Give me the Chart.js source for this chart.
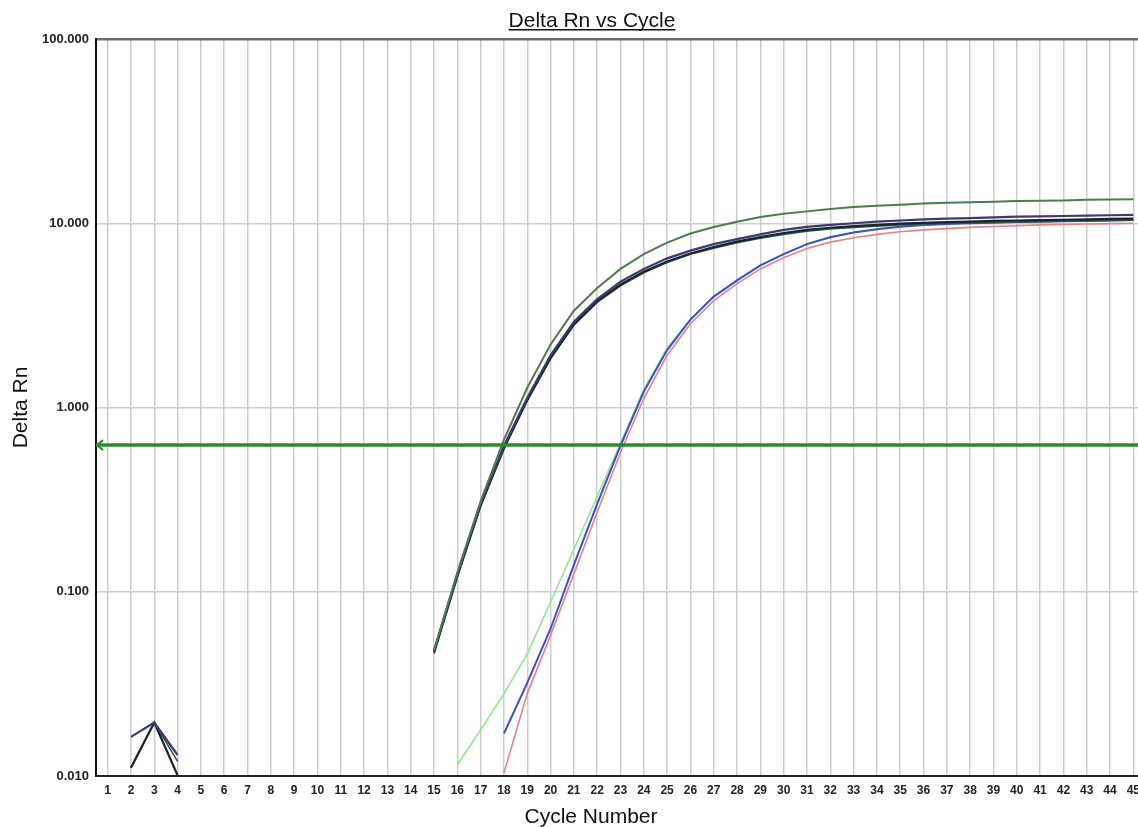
<!DOCTYPE html>
<html>
<head>
<meta charset="utf-8">
<title>Delta Rn vs Cycle</title>
<script src="https://cdn.jsdelivr.net/npm/chart.js@4/dist/chart.umd.min.js"></script>
<style>
  html, body { margin: 0; padding: 0; background: #fff; }
  canvas { display: block; }
</style>
</head>
<body>
<canvas id="ampChart" width="1138" height="827"></canvas>
<script>
var cycles = [];
for (var c = 1; c <= 45; c++) cycles.push(c);

var yTicks = [0.01, 0.1, 1, 10, 100];
var threshold = 0.625;

// Delta Rn per cycle (index 0 = cycle 1), null where nothing is plotted
var dkGreen = [null, null, null, null, null, null, null, null, null, null, null, null, null, null,
  0.048, 0.127, 0.31, 0.67, 1.28, 2.2, 3.35, 4.45, 5.65, 6.8, 7.85, 8.8, 9.55, 10.2, 10.8, 11.25,
  11.6, 11.95, 12.25, 12.45, 12.6, 12.8, 12.9, 13.0, 13.1, 13.2, 13.25, 13.3, 13.4, 13.45, 13.5];
var navy = [null, 0.0163, 0.0195, 0.013, null, null, null, null, null, null, null, null, null, null,
  0.048, 0.125, 0.30, 0.62, 1.13, 1.92, 2.92, 3.88, 4.82, 5.65, 6.45, 7.1, 7.7, 8.2, 8.7, 9.2,
  9.55, 9.8, 10.0, 10.2, 10.35, 10.5, 10.6, 10.65, 10.75, 10.85, 10.9, 10.95, 11.0, 11.05, 11.1];
var black = [null, 0.0111, 0.0195, 0.0101, null, null, null, null, null, null, null, null, null, null,
  0.047, 0.122, 0.295, 0.6, 1.1, 1.86, 2.83, 3.78, 4.65, 5.45, 6.2, 6.85, 7.42, 7.95, 8.4, 8.85,
  9.2, 9.45, 9.65, 9.8, 9.95, 10.05, 10.15, 10.2, 10.3, 10.35, 10.4, 10.45, 10.5, 10.55, 10.6];
var teal = [null, 0.0111, 0.0195, 0.012, null, null, null, null, null, null, null, null, null, null,
  0.046, 0.12, 0.29, 0.6, 1.09, 1.84, 2.8, 3.72, 4.58, 5.38, 6.12, 6.78, 7.33, 7.85, 8.3, 8.7,
  9.05, 9.3, 9.5, 9.65, 9.8, 9.9, 10.0, 10.05, 10.1, 10.15, 10.2, 10.25, 10.3, 10.35, 10.4];
var ltGreen = [null, null, null, null, null, null, null, null, null, null, null, null, null, null, null,
  0.0115, 0.0178, 0.028, 0.046, 0.088, 0.17, 0.33, 0.64, 1.25, 2.1, 3.0, 4.0, 4.9, 5.9, 6.8,
  7.75, 8.45, 8.9, 9.3, 9.6, 9.8, 9.95, 10.05, 10.1, 10.2, 10.25, 10.3, 10.35, 10.4, 10.45];
var blue = [null, null, null, null, null, null, null, null, null, null, null, null, null, null, null, null, null,
  0.017, 0.032, 0.063, 0.14, 0.30, 0.62, 1.22, 2.05, 3.0, 4.0, 4.9, 5.9, 6.8,
  7.7, 8.4, 8.9, 9.27, 9.57, 9.77, 9.9, 10.0, 10.05, 10.15, 10.2, 10.25, 10.3, 10.35, 10.4];
var red = [null, null, null, null, null, null, null, null, null, null, null, null, null, null, null, null, null,
  0.0104, 0.028, 0.058, 0.125, 0.27, 0.57, 1.12, 1.92, 2.85, 3.8, 4.7, 5.65, 6.5,
  7.3, 7.9, 8.35, 8.7, 9.0, 9.2, 9.35, 9.5, 9.6, 9.7, 9.8, 9.85, 9.9, 9.95, 10.0];

var xMin = 0.5, xMax = 45.2;
var font = "'Liberation Sans', Arial, sans-serif";

function toPoints(vals) {
  return cycles.map(function(c, i) { return { x: c, y: vals[i] }; });
}

function curve(vals, color, width) {
  return {
    data: toPoints(vals),
    borderColor: color,
    borderWidth: width,
    pointRadius: 0,
    tension: 0,
    spanGaps: false
  };
}

// title, x axis title and the threshold arrow
var decorations = {
  id: 'decorations',
  afterDraw: function(chart) {
    var ctx = chart.ctx;
    ctx.save();
    ctx.fillStyle = '#111';
    ctx.font = '21px ' + font;
    ctx.textAlign = 'center';
    ctx.textBaseline = 'alphabetic';
    ctx.fillText('Delta Rn vs Cycle', 592, 27);
    var w = ctx.measureText('Delta Rn vs Cycle').width;
    ctx.fillRect(592 - w / 2, 29, w, 1.5);
    ctx.fillText('Cycle Number', 591, 823);

    var ty = chart.scales.y.getPixelForValue(threshold);
    var tx = chart.scales.x.getPixelForValue(xMin) + 1;
    ctx.strokeStyle = '#2b8a2b';
    ctx.lineWidth = 2;
    ctx.beginPath();
    ctx.moveTo(tx + 6, ty - 5);
    ctx.lineTo(tx, ty);
    ctx.lineTo(tx + 6, ty + 5);
    ctx.stroke();
    ctx.restore();
  }
};

var ctx = document.getElementById('ampChart');
var ampChart = new Chart(ctx, {
  type: 'line',
  data: {
    datasets: [
      {
        data: [{ x: xMin, y: threshold }, { x: xMax, y: threshold }],
        borderColor: '#2b8a2b',
        borderWidth: 3.5,
        pointRadius: 0
      },
      curve(dkGreen, '#4a7d4a', 2),
      curve(navy, '#3c3a6e', 2.2),
      curve(black, '#1c2626', 2.2),
      curve(teal, '#2d5656', 1.6),
      curve(blue, '#3c4fc4', 2),
      curve(red, '#ec7f80', 1.6),
      curve(ltGreen, '#8fe88f', 1.6)
    ]
  },
  options: {
    responsive: false,
    devicePixelRatio: 1,
    animation: false,
    events: [],
    layout: { padding: { top: 39, right: 0, left: 0, bottom: 0 } },
    plugins: {
      legend: { display: false },
      tooltip: { enabled: false },
      title: { display: false }
    },
    scales: {
      x: {
        type: 'linear',
        min: xMin,
        max: xMax,
        afterBuildTicks: function(scale) {
          scale.ticks = cycles.map(function(c) { return { value: c }; });
        },
        afterFit: function(scale) {
          scale.height = 51;
          scale.paddingLeft = 0;
          scale.paddingRight = 0;
        },
        grid: { color: '#cdcdcd', lineWidth: 1.5, drawTicks: false },
        border: { color: '#222', width: 2 },
        ticks: {
          padding: 7,
          autoSkip: false,
          maxRotation: 0,
          color: '#222',
          font: { family: font, size: 12, weight: 'bold' }
        }
      },
      y: {
        type: 'logarithmic',
        min: 0.01,
        max: 100,
        afterBuildTicks: function(scale) {
          scale.ticks = yTicks.map(function(v) { return { value: v }; });
        },
        afterFit: function(scale) {
          scale.width = 96;
          scale.paddingTop = 0;
          scale.paddingBottom = 0;
        },
        grid: {
          drawTicks: false,
          color: function(c) { return c.tick && c.tick.value === 100 ? '#6e6e6e' : '#cdcdcd'; },
          lineWidth: function(c) { return c.tick && c.tick.value === 100 ? 2.5 : 1.5; }
        },
        border: { color: '#111', width: 2 },
        ticks: {
          padding: 7,
          color: '#222',
          font: { family: font, size: 13, weight: 'bold' },
          callback: function(v) { return Number(v).toFixed(3); }
        },
        title: {
          display: true,
          text: 'Delta Rn',
          color: '#111',
          font: { family: font, size: 21 },
          padding: { top: 9, bottom: 0 }
        }
      }
    }
  },
  plugins: [decorations]
});
</script>
</body>
</html>
